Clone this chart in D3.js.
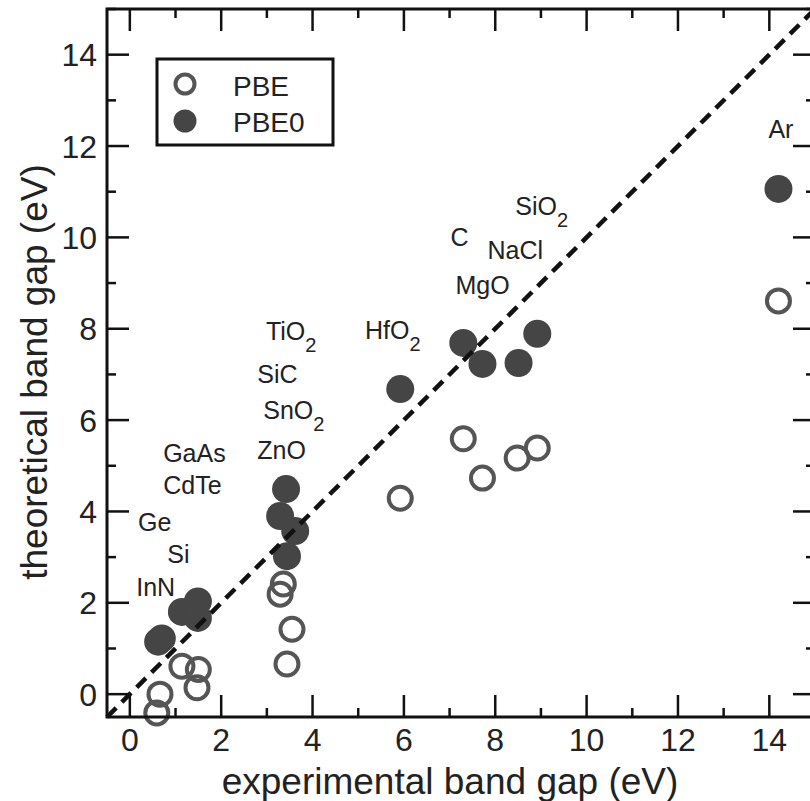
<!DOCTYPE html>
<html lang="en">
<head>
    <meta charset="UTF-8">
    <title>Band gaps</title>
    <script src="https://d3js.org/d3.v7.min.js"></script>
    <style>
      body { margin: 0; background: #fff; }
      text { font-family: "Liberation Sans", Arial, sans-serif; fill: #222; }
    </style>
</head>
<body>
    <script>
// experimental gap (x) and computed gap (y), eV
const pbeExp  = [0.59, 0.66, 1.14, 1.50, 1.47, 3.36, 3.29, 3.55, 3.44, 5.92, 7.30, 7.72, 8.48, 8.92, 14.2];
const pbeVal  = [-0.41, 0.0, 0.61, 0.54, 0.14, 2.41, 2.19, 1.42, 0.66, 4.29, 5.59, 4.73, 5.17, 5.39, 8.61];
const pbe0Exp = [0.62, 0.70, 1.14, 1.49, 1.49, 3.42, 3.29, 3.62, 3.44, 5.92, 7.30, 7.72, 8.51, 8.92, 14.2];
const pbe0Val = [1.15, 1.22, 1.80, 2.03, 1.67, 4.49, 3.90, 3.57, 3.02, 6.68, 7.69, 7.23, 7.25, 7.89, 11.06];

// material names, [text, subscript], anchored in data units
const materials = [
  ['GaAs', ''], ['CdTe', ''], ['Ge', ''], ['Si', ''], ['InN', ''],
  ['TiO', '2'], ['SiC', ''], ['SnO', '2'], ['ZnO', ''], ['HfO', '2'],
  ['SiO', '2'], ['C', ''], ['NaCl', ''], ['MgO', ''], ['Ar', '']
];
const matX = [0.73, 0.73, 0.18, 0.82, 0.14, 2.98, 2.79, 2.92, 2.79, 5.15, 8.44, 7.02, 7.83, 7.13, 13.98];
const matY = [5.08, 4.38, 3.57, 2.87, 2.15, 7.76, 6.81, 6.03, 5.15, 7.78, 10.50, 9.82, 9.53, 8.76, 12.18];

const xTicks = [0, 2, 4, 6, 8, 10, 12, 14];
const yTicks = [0, 2, 4, 6, 8, 10, 12, 14];
const minorTicks = [1, 3, 5, 7, 9, 11, 13, 15];

let width = 810, height = 801;
let margin = { left: 107, top: 9 };
let size = 708;

const svg = d3.select('body').append('svg').attr('width', width).attr('height', height);

const x = d3.scaleLinear().domain([-0.5, 15]).range([margin.left, margin.left + size]);
const y = d3.scaleLinear().domain([-0.5, 15]).range([margin.top + size, margin.top]);

const x0 = margin.left, x1 = margin.left + size, y0 = margin.top + size, y1 = margin.top;

// ticks pointing inward on all four sides
const major = 22, minor = 9;
const tickG = svg.append('g').attr('stroke', '#111').attr('stroke-width', 2.5);
[[xTicks, major], [minorTicks, minor]].forEach(([ts, len]) => {
  ts.forEach(t => {
    tickG.append('line').attr('x1', x(t)).attr('x2', x(t)).attr('y1', y0).attr('y2', y0 - len);
    tickG.append('line').attr('x1', x(t)).attr('x2', x(t)).attr('y1', y1).attr('y2', y1 + len);
    tickG.append('line').attr('y1', y(t)).attr('y2', y(t)).attr('x1', x0).attr('x2', x0 + len);
    tickG.append('line').attr('y1', y(t)).attr('y2', y(t)).attr('x1', x1).attr('x2', x1 - len);
  });
});

svg.append('g').selectAll('text').data(xTicks).join('text')
  .attr('x', d => x(d)).attr('y', 751)
  .attr('text-anchor', 'middle').style('font-size', '32px')
  .text(d => d);

svg.append('g').selectAll('text').data(yTicks).join('text')
  .attr('x', 97).attr('y', d => y(d)).attr('dy', '0.36em')
  .attr('text-anchor', 'end').style('font-size', '32px')
  .text(d => d);

// markers
svg.append('g').selectAll('circle').data(pbeExp).join('circle')
  .attr('cx', d => x(d)).attr('cy', (d, i) => y(pbeVal[i])).attr('r', 11.5)
  .attr('fill', 'none').attr('stroke', '#555').attr('stroke-width', 4);

svg.append('g').selectAll('circle').data(pbe0Exp).join('circle')
  .attr('cx', d => x(d)).attr('cy', (d, i) => y(pbe0Val[i])).attr('r', 14)
  .attr('fill', '#454545');

// y = x
svg.append('line')
  .attr('x1', x(-0.5)).attr('y1', y(-0.5)).attr('x2', x(15)).attr('y2', y(15))
  .attr('stroke', '#111').attr('stroke-width', 4.5).attr('stroke-dasharray', '13,8');

// frame
svg.append('rect').attr('x', x0).attr('y', y1).attr('width', size).attr('height', size)
  .attr('fill', 'none').attr('stroke', '#111').attr('stroke-width', 3);

// material labels
const lab = svg.append('g').selectAll('text').data(materials).join('text')
  .attr('x', (d, i) => x(matX[i])).attr('y', (d, i) => y(matY[i]))
  .style('font-size', '25px');
lab.append('tspan').text(d => d[0]);
lab.filter(d => d[1]).append('tspan').attr('dy', 12).style('font-size', '20px').text(d => d[1]);

// legend
const leg = svg.append('g');
leg.append('rect').attr('x', 157).attr('y', 59).attr('width', 176).attr('height', 86)
  .attr('fill', '#fff').attr('stroke', '#111').attr('stroke-width', 3);
leg.append('circle').attr('cx', 185).attr('cy', 84).attr('r', 9.5)
  .attr('fill', 'none').attr('stroke', '#555').attr('stroke-width', 4);
leg.append('circle').attr('cx', 185).attr('cy', 121).attr('r', 11.5).attr('fill', '#454545');
leg.append('text').attr('x', 233).attr('y', 96).style('font-size', '28px').text('PBE');
leg.append('text').attr('x', 233).attr('y', 132).style('font-size', '28px').text('PBE0');

// axis titles
svg.append('text').attr('x', 450).attr('y', 794)
  .attr('text-anchor', 'middle').style('font-size', '37px')
  .text('experimental band gap (eV)');

svg.append('text').attr('transform', 'translate(47,372) rotate(-90)')
  .attr('text-anchor', 'middle').style('font-size', '37px')
  .text('theoretical band gap (eV)');
    </script>
</body>
</html>
